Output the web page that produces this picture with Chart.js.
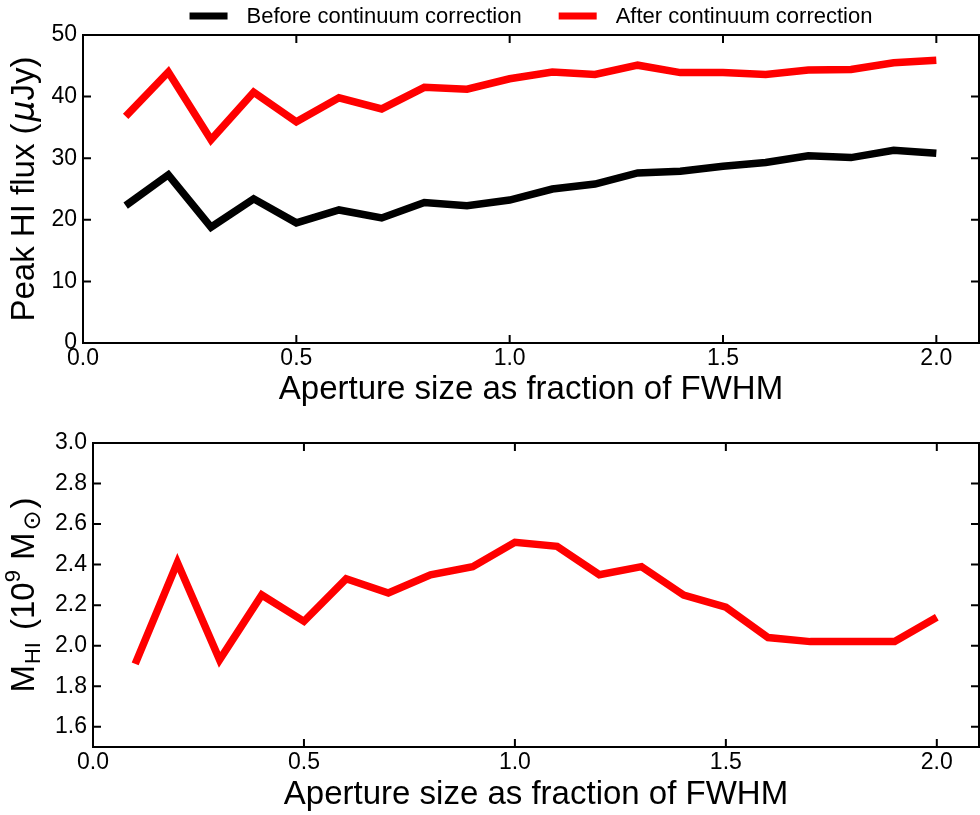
<!DOCTYPE html>
<html>
<head>
<meta charset="utf-8">
<title>Peak HI flux and HI mass vs aperture size</title>
<script src="https://cdn.jsdelivr.net/npm/chart.js"></script>
<style>
  body { margin: 0; background: #fff; }
  #top-wrap { position: absolute; left: 0; top: 0; }
  #bottom-wrap { position: absolute; left: 0; top: 410px; }
</style>
</head>
<body>
<div id="top-wrap"><canvas id="fluxChart" width="980" height="410"></canvas></div>
<div id="bottom-wrap"><canvas id="massChart" width="980" height="405"></canvas></div>
<script>
// aperture size as fraction of FWHM
const apertures = [0.1, 0.2, 0.3, 0.4, 0.5, 0.6, 0.7, 0.8, 0.9, 1.0,
                   1.1, 1.2, 1.3, 1.4, 1.5, 1.6, 1.7, 1.8, 1.9, 2.0];
// peak HI flux (uJy)
const fluxBefore = [22.3, 27.3, 18.8, 23.4, 19.5, 21.6, 20.3, 22.8, 22.3, 23.2,
                    25.0, 25.8, 27.6, 27.9, 28.7, 29.3, 30.4, 30.1, 31.3, 30.8];
const fluxAfter = [36.8, 44.0, 33.0, 40.7, 35.9, 39.8, 38.0, 41.5, 41.2, 42.9,
                   44.0, 43.6, 45.1, 43.9, 43.9, 43.6, 44.3, 44.4, 45.5, 45.9];
// HI mass (10^9 Msun), after continuum correction
const massHI = [1.91, 2.41, 1.93, 2.25, 2.12, 2.33, 2.26, 2.35, 2.39, 2.51,
                2.49, 2.35, 2.39, 2.25, 2.19, 2.04, 2.02, 2.02, 2.02, 2.14];

const xTicks = [0.0, 0.5, 1.0, 1.5, 2.0];
const fluxTicks = [0, 10, 20, 30, 40, 50];
const massTicks = [1.6, 1.8, 2.0, 2.2, 2.4, 2.6, 2.8, 3.0];

const FONT = 'Liberation Sans';
const pts = ys => apertures.map((x, i) => ({ x: x, y: ys[i] }));

// box round the plot with inward ticks on all four sides
const frameTicks = {
  id: 'frameTicks',
  afterDatasetsDraw(chart) {
    const { ctx, chartArea: a, scales: { x, y } } = chart;
    const len = 8;
    ctx.save();
    ctx.strokeStyle = '#000';
    ctx.lineWidth = 2;
    ctx.beginPath();
    x.ticks.forEach(t => {
      const px = x.getPixelForValue(t.value);
      ctx.moveTo(px, a.bottom); ctx.lineTo(px, a.bottom - len);
      ctx.moveTo(px, a.top); ctx.lineTo(px, a.top + len);
    });
    y.ticks.forEach(t => {
      const py = y.getPixelForValue(t.value);
      ctx.moveTo(a.left, py); ctx.lineTo(a.left + len, py);
      ctx.moveTo(a.right, py); ctx.lineTo(a.right - len, py);
    });
    ctx.stroke();
    ctx.strokeRect(a.left, a.top, a.right - a.left, a.bottom - a.top);
    ctx.restore();
  }
};

// rotated y title made of pieces (for italics, sub- and superscripts)
function richYTitle(baseX, parts) {
  return {
    id: 'richYTitle',
    afterDraw(chart) {
      const { ctx, chartArea: a } = chart;
      ctx.save();
      const widths = parts.map(p => { ctx.font = p.css; return ctx.measureText(p.text).width + (p.after || 0); });
      const total = widths.reduce((s, w) => s + w, 0);
      ctx.translate(baseX, (a.top + a.bottom) / 2);
      ctx.rotate(-Math.PI / 2);
      ctx.fillStyle = '#000';
      ctx.textBaseline = 'alphabetic';
      ctx.textAlign = 'left';
      let cx = -total / 2;
      parts.forEach((p, i) => {
        ctx.font = p.css;
        ctx.fillText(p.text, cx, p.shift || 0);
        cx += widths[i];
      });
      ctx.restore();
    }
  };
}

// legend with thick line swatches, centred over the plot
const lineLegend = {
  id: 'lineLegend',
  afterDraw(chart) {
    const { ctx, chartArea: a } = chart;
    const sets = chart.data.datasets;
    const sw = 38, gap = 19, itemGap = 37, y = 16;
    ctx.save();
    ctx.font = '22px ' + FONT;
    const widths = sets.map(d => ctx.measureText(d.label).width);
    let total = 0;
    widths.forEach((w, i) => { total += sw + gap + w + (i ? itemGap : 0); });
    let x = (a.left + a.right) / 2 - total / 2;
    ctx.textBaseline = 'middle';
    sets.forEach((d, i) => {
      ctx.fillStyle = d.borderColor;
      ctx.fillRect(x, y - 3.5, sw, 7);
      ctx.fillStyle = '#000';
      ctx.fillText(d.label, x + sw + gap, y + 1);
      x += sw + gap + widths[i] + itemGap;
    });
    ctx.restore();
  }
};

function xScale(height) {
  return {
    type: 'linear', min: 0, max: 2.1,
    afterBuildTicks: s => { s.ticks = xTicks.map(v => ({ value: v })); },
    afterFit: s => { s.height = height; },
    grid: { display: false, drawTicks: false },
    border: { display: false },
    ticks: {
      autoSkip: false, maxRotation: 0, padding: 2, color: '#000',
      font: { family: FONT, size: 23 },
      callback: v => v.toFixed(1)
    },
    title: {
      display: true, text: 'Aperture size as fraction of FWHM', color: '#000',
      font: { family: FONT, size: 33, lineHeight: 1.2 },
      padding: { top: 0, bottom: 0 }
    }
  };
}

function yScale(min, max, ticks, width, fmt) {
  return {
    type: 'linear', min: min, max: max,
    afterBuildTicks: s => { s.ticks = ticks.map(v => ({ value: v })); },
    afterFit: s => { s.width = width; },
    grid: { display: false, drawTicks: false },
    border: { display: false },
    ticks: {
      autoSkip: false, padding: 6, color: '#000',
      font: { family: FONT, size: 23 },
      callback: fmt
    }
  };
}

const lineStyle = { borderWidth: 7.5, pointRadius: 0, tension: 0, fill: false,
                    borderJoinStyle: 'miter', borderCapStyle: 'butt' };

new Chart(document.getElementById('fluxChart'), {
  type: 'line',
  data: {
    datasets: [
      Object.assign({ label: 'Before continuum correction', data: pts(fluxBefore), borderColor: '#000000' }, lineStyle),
      Object.assign({ label: 'After continuum correction', data: pts(fluxAfter), borderColor: '#ff0000' }, lineStyle)
    ]
  },
  options: {
    responsive: false, animation: false,
    layout: { padding: { left: 0, right: 1, top: 35, bottom: 0 } },
    plugins: { legend: { display: false }, tooltip: { enabled: false } },
    scales: {
      x: xScale(67),
      y: yScale(0, 50, fluxTicks, 83, v => String(v))
    }
  },
  plugins: [frameTicks, lineLegend, richYTitle(34, [
    { text: 'Peak HI flux (', css: '33px ' + FONT, after: 2 },
    { text: 'μ', css: 'italic 33px "DejaVu Sans"' },
    { text: 'Jy)', css: '33px ' + FONT }
  ])]
});

new Chart(document.getElementById('massChart'), {
  type: 'line',
  data: {
    datasets: [
      Object.assign({ label: 'After continuum correction', data: pts(massHI), borderColor: '#ff0000' }, lineStyle)
    ]
  },
  options: {
    responsive: false, animation: false,
    layout: { padding: { left: 0, right: 1, top: 33, bottom: 0 } },
    plugins: { legend: { display: false }, tooltip: { enabled: false } },
    scales: {
      x: xScale(68),
      y: yScale(1.5, 3.0, massTicks, 93, v => v.toFixed(1))
    }
  },
  plugins: [frameTicks, richYTitle(34, [
    { text: 'M', css: '33px ' + FONT, after: 1 },
    { text: 'HI', css: '22px ' + FONT, shift: 6, after: 12 },
    { text: '(10', css: '33px ' + FONT },
    { text: '9', css: '22px ' + FONT, shift: -14, after: 10 },
    { text: 'M', css: '33px ' + FONT, after: 2 },
    { text: '⊙', css: '24px "DejaVu Sans"', shift: 6, after: 2 },
    { text: ')', css: '33px ' + FONT }
  ])]
});
</script>
</body>
</html>
